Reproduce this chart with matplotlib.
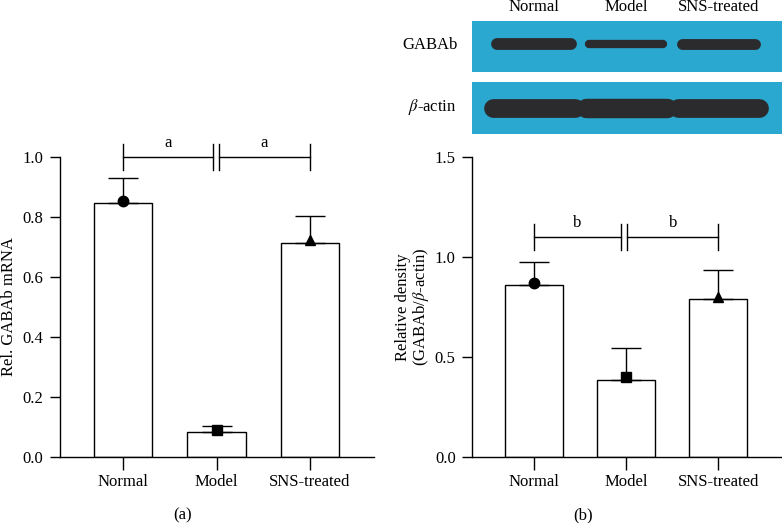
import matplotlib
matplotlib.use("Agg")
import matplotlib.pyplot as plt
import numpy as np

plt.rcParams['font.family'] = ['Liberation Serif', 'DejaVu Serif']
plt.rcParams['mathtext.fontset'] = 'stix'

categories = ['Normal', 'Model', 'SNS-treated']
mrna_mean = [0.848, 0.084, 0.714]
mrna_err = [0.083, 0.020, 0.091]
mrna_pts = [0.855, 0.090, 0.722]
dens_mean = [0.858, 0.383, 0.787]
dens_err = [0.114, 0.159, 0.145]
dens_pts = [0.870, 0.397, 0.800]
markers = ['o', 's', '^']
gabab_band = [8.5, 6.0, 7.8]     # band thickness (pt)
actin_band = [13.5, 14.0, 13.5]

W, H = 782, 523
fig = plt.figure(figsize=(W / 100, H / 100), dpi=100)

def ax_px(x0, y_top, x1, y_bot):
    return fig.add_axes([x0 / W, 1 - y_bot / H, (x1 - x0) / W, (y_bot - y_top) / H])

FS = 12
LW = 1.0

def bar_panel(ax, mean, err, pts, ylim, yticks, xlim):
    x = np.arange(len(categories))
    ax.bar(x, mean, width=0.63, color='white', edgecolor='black', linewidth=LW, zorder=2)
    ax.errorbar(x, mean, yerr=[np.zeros(len(err)), err], fmt='none', ecolor='black',
                elinewidth=LW, capsize=11, capthick=LW, zorder=3)
    for xi, p, m in zip(x, pts, markers):
        ax.plot(xi, p, marker=m, color='black', markersize=7.5, zorder=4, clip_on=False)
    ax.set_xlim(*xlim)
    ax.set_ylim(*ylim)
    ax.set_yticks(yticks)
    ax.set_yticklabels([f'{t:.1f}' for t in yticks], fontsize=FS)
    ax.set_xticks(x)
    ax.set_xticklabels(categories, fontsize=FS)
    for s in ['top', 'right']:
        ax.spines[s].set_visible(False)
    for s in ['left', 'bottom']:
        ax.spines[s].set_linewidth(LW)
    ax.tick_params(axis='y', direction='out', length=7.5, width=LW, pad=4.5)
    ax.tick_params(axis='x', direction='out', length=9.5, width=LW, pad=3.0)

def bracket(ax, y, h, label, gap_l, gap_r):
    kw = dict(color='black', lw=LW, clip_on=False)
    ax.plot([0, gap_l], [y, y], **kw)
    ax.plot([gap_r, 2], [y, y], **kw)
    for xv in [0, gap_l, gap_r, 2]:
        ax.plot([xv, xv], [y - h, y + h], **kw)
    ax.text((0 + gap_l) / 2, y + h * 0.45, label, ha='center', va='bottom', fontsize=FS)
    ax.text((gap_r + 2) / 2, y + h * 0.45, label, ha='center', va='bottom', fontsize=FS)

# Panel (a)
axa = ax_px(60, 157, 374, 457)
bar_panel(axa, mrna_mean, mrna_err, mrna_pts, (0, 1.0), [0.0, 0.2, 0.4, 0.6, 0.8, 1.0],
          (-0.674, 2.684))
bracket(axa, 1.0, 0.044, 'a', 0.966, 1.027)
fig.text(9 / W, 1 - 307 / H, 'Rel. GABAb mRNA', rotation=90, ha='center', va='center', fontsize=FS)
fig.text(183 / W, 1 - 515 / H, '(a)', ha='center', va='center', fontsize=FS)

# Panel (b)
axb = ax_px(472.3, 156.7, 782, 456.7)
xlim_b = (-0.669, 2.69)
bar_panel(axb, dens_mean, dens_err, dens_pts, (0, 1.5), [0.0, 0.5, 1.0, 1.5], xlim_b)
bracket(axb, 1.10, 0.065, 'b', 0.944, 1.012)
fig.text(413 / W, 1 - 307 / H, 'Relative density\n(GABAb/$\\beta$-actin)', rotation=90,
         ha='center', va='center', fontsize=FS, linespacing=1.05)
fig.text(583 / W, 1 - 515 / H, '(b)', ha='center', va='center', fontsize=FS)

# Western blot
blue = '#2aa8cf'
band_col = '#2b2a2c'
x = np.arange(len(categories))
for (top, bot, thick, half, yc) in [(21, 72, gabab_band, 0.40, 0.55),
                                     (82, 134, actin_band, 0.44, 0.50)]:
    axw = ax_px(472.3, top, 782, bot)
    axw.set_facecolor(blue)
    axw.set_xlim(*xlim_b)
    axw.set_ylim(0, 1)
    axw.set_xticks([])
    axw.set_yticks([])
    for s in axw.spines.values():
        s.set_visible(False)
    for xi, t in zip(x, thick):
        axw.plot([xi - half, xi + half], [yc, yc], color=band_col, lw=t,
                 solid_capstyle='round')

for xi, c in zip(x, categories):
    fx = axb.transData.transform((xi, 0))[0]
    fig.text(fx / W, 1 - 7 / H, c, ha='center', va='center', fontsize=FS)
fig.text(430 / W, 1 - 45 / H, 'GABAb', ha='center', va='center', fontsize=FS)
fig.text(432 / W, 1 - 107 / H, '$\\beta$-actin', ha='center', va='center', fontsize=FS)

fig.savefig('out.png', dpi=100)
